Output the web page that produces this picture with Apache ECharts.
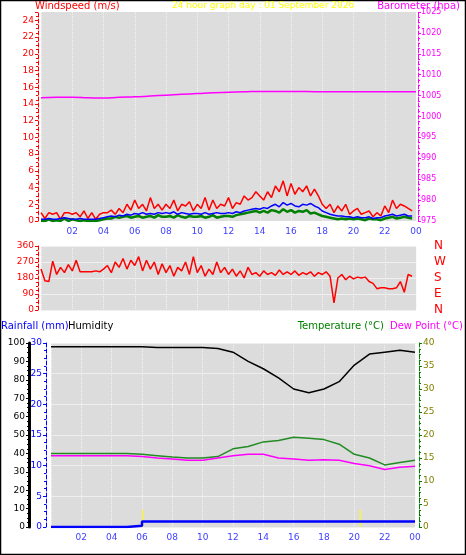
<!DOCTYPE html>
<html>
<head>
<meta charset="utf-8">
<script src="https://cdn.jsdelivr.net/npm/echarts@6/dist/echarts.min.js"></script>
<style>
  html, body { margin: 0; padding: 0; background: #fff; }
  #chart { width: 466px; height: 555px; }
</style>
</head>
<body>
<div id="chart"></div>
<script>
// 15 minute samples, hour 0 .. 23.75
const windGust = [
  1,0.3,1,0.8,1,0.2,1,1, 0.8,1,0.5,1.2,0.3,1,0.2,0.8,
  1,1,1.3,0.8,1.5,1,2,1.3,
  2.5,1.5,2,1.2,2.8,1.5,2,1.3,
  2,1.5,2.5,1.2,2,1.8,2.3,1.2,
  2,1.5,2.8,1.3,2.5,1.5,2,1.8,
  2.8,1.5,2.2,2,3,2.5,2.8,3.5,
  3,2.5,3.5,2.8,4.2,3.5,4.8,3,
  4.5,3.2,4,3.5,4.2,3,3.8,3,
  2,1.5,2,1,1.8,1.2,2,0.8,
  1.2,1.5,0.8,1,1.2,0.5,1,0.6,
  1.8,1,2.5,1.5,2,1.8,1.5,1.2
]
const windAvg = [
  0.2,0.2,0.3,0.2,0.2,0.3,0.4,0.3, 0.2,0.2,0.3,0.2,0.2,0.2,0.2,0.3,
  0.4,0.5,0.6,0.5,0.7,0.6,0.8,0.7,
  0.9,0.8,1,0.8,0.9,0.8,1,0.9,
  1,0.9,1.1,0.8,1,0.9,0.8,0.9,
  0.9,0.8,1,0.8,0.9,1,0.9,0.9,
  1,0.9,1.1,1,1.2,1.3,1.4,1.5,
  1.4,1.6,1.5,1.8,2,1.7,2.2,1.9,
  2.1,1.8,1.7,2,1.9,2.1,1.8,1.6,
  1.2,1,0.8,0.7,0.6,0.6,0.5,0.5,
  0.4,0.5,0.4,0.4,0.5,0.3,0.4,0.4,
  0.6,0.7,0.8,0.6,0.7,0.8,0.6,0.6
]
const windLull = [
  0,0,0.2,0,0.1,0,0.3,0, 0.2,0.1,0,0.1,0,0,0,0.1,
  0.2,0.3,0.3,0.5,0.4,0.5,0.6,0.4,
  0.5,0.6,0.4,0.5,0.6,0.4,0.7,0.5,
  0.5,0.6,0.4,0.7,0.5,0.4,0.6,0.5,
  0.5,0.6,0.4,0.5,0.7,0.4,0.5,0.6,
  0.6,0.5,0.7,0.8,0.9,1,1.1,1.2,
  1,1.2,1,1.3,1.2,1,1.4,1.1,
  1.3,1,1.2,1.1,1.3,0.9,1,0.8,
  0.6,0.5,0.4,0.3,0.2,0.3,0.2,0.3,
  0.2,0.3,0.2,0.1,0.3,0.2,0.2,0.1,
  0.3,0.4,0.5,0.3,0.4,0.5,0.4,0.3
]
const windDir = [
  230,165,160,275,200,240,210,255,
  220,280,215,215,215,215,220,215,
  230,250,210,270,240,290,230,280,
  250,300,220,280,230,270,200,260,
  210,250,190,240,220,270,200,300,
  210,250,190,230,200,270,210,240,
  200,230,190,220,180,240,200,210,
  190,220,200,210,195,225,200,215,
  200,220,195,210,200,215,190,210,
  200,215,190,40,180,200,170,190,
  175,185,180,185,160,150,120,125,
  125,120,120,125,160,100,200,190
]
// hourly samples, hour 0 .. 24
const barometer = [1004.5,1004.6,1004.6,1004.5,1004.4,1004.6,1004.7,1004.9,1005.1,1005.3,1005.5,1005.7,
  1005.8,1005.9,1006,1006,1006,1006,1005.9,1005.9,1005.9,1005.9,1005.9,1005.9,1005.9]
const humidity = [98,98,98,98,98,98,98,97.5,97.5,97.5,97.5,97,95,90,86,81,75,73,75,79,88,94,95,96,95]
const temperature = [16,16,16,16,16,16,15.8,15.5,15.2,15,15,15.3,17,17.5,18.5,18.8,19.5,19.3,19,18,15.8,15,13.5,14,14.5]
const dewPoint = [15.5,15.5,15.5,15.5,15.5,15.5,15.3,15,14.8,14.5,14.5,15,15.5,15.8,15.8,15,14.8,14.5,14.6,14.5,13.8,13.3,12.5,13,13.2]
const rainfall = [0,0,0,0,0,0.2,0.9,0.9,0.9,0.9,0.9,0.9,0.9,0.9,0.9,0.9,0.9,0.9,0.9,0.9,0.9,0.9,0.9,0.9,0.9]
const rainMarks = [6.05, 20.4]
const hourTicks = ['02','04','06','08','10','12','14','16','18','20','22','00']

const q = (arr) => arr.map((v, i) => [i / 4, v])
const h = (arr) => arr.map((v, i) => [i, v])
const font = 'DejaVu Sans'

function xAxis(gridIndex, showLabels) {
  return {
    type: 'value', gridIndex, min: 0, max: 24, interval: 2,
    axisLine: { show: false }, axisTick: { show: false },
    axisLabel: {
      show: showLabels, color: '#4040ff', fontSize: 9, fontFamily: font, margin: 6,
      formatter: v => v === 0 ? '' : hourTicks[v / 2 - 1]
    },
    splitLine: { show: true, lineStyle: { color: '#f4f4f4', type: 'dotted' } }
  }
}

function yAxis(gridIndex, pos, min, max, interval, color, offset, extra) {
  const ax = Object.assign({
    type: 'value', gridIndex, position: pos, min, max, interval, offset,
    axisLine: { show: true, lineStyle: { color, width: 1, type: 'dashed' } },
    axisTick: { show: true, length: 3, lineStyle: { color } },
    minorTick: { show: true, splitNumber: 4, length: 2, lineStyle: { color } },
    axisLabel: { color, fontSize: 9, fontFamily: font, margin: 4 },
    splitLine: { show: false }
  }, extra || {})
  ax.axisLine.onZero = false
  return ax
}

const dirNames = { 0: 'N', 90: 'E', 180: 'S', 270: 'W', 360: 'N' }
const chart = echarts.init(document.getElementById('chart'))
chart.setOption({
  animation: false,
  backgroundColor: '#fff',
  textStyle: { fontFamily: font },
  graphic: [
    { type: 'rect', shape: { x: 0.5, y: 0.5, width: 465, height: 554 }, style: { fill: 'none', stroke: '#000', lineWidth: 1.5 } },
    { type: 'text', left: 35, top: 1, style: { text: 'Windspeed (m/s)', fill: '#ff0000', font: '10px ' + font } },
    { type: 'text', left: 172, top: 1, style: { text: '24 hour graph day : 01 September 2026', fill: '#ffff00', font: '9px ' + font } },
    { type: 'text', right: 6, top: 1, style: { text: 'Barometer (hpa)', fill: '#ff00ff', font: '10px ' + font } },
    { type: 'text', left: 1, top: 321, style: { text: 'Rainfall (mm)', fill: '#0000ff', font: '10px ' + font } },
    { type: 'text', left: 68, top: 321, style: { text: 'Humidity', fill: '#000', font: '10px ' + font } },
    { type: 'text', right: 82, top: 321, style: { text: 'Temperature (°C)', fill: '#008000', font: '10px ' + font } },
    { type: 'text', right: 3, top: 321, style: { text: 'Dew Point (°C)', fill: '#ff00ff', font: '10px ' + font } }
  ],
  grid: [
    { left: 41, top: 12, width: 375, height: 209, show: true, backgroundColor: '#dddddd', borderWidth: 0 },
    { left: 41, top: 246, width: 375, height: 64, show: true, backgroundColor: '#dcdcdc', borderWidth: 0 },
    { left: 51, top: 343, width: 364, height: 184, show: true, backgroundColor: '#dcdcdc', borderWidth: 0 }
  ],
  xAxis: [xAxis(0, true), xAxis(1, false), xAxis(2, true)],
  yAxis: [
    yAxis(0, 'left', 0, 25, 2, '#ff0000', 3, { axisLabel: { color: '#ff0000', fontSize: 9, fontFamily: font, margin: 4, formatter: v => v > 24 ? '' : v } }),
    yAxis(0, 'right', 975, 1025, 5, '#ff00ff', 2, { axisLabel: { color: '#ff00ff', fontSize: 8, fontFamily: font, margin: 3, formatter: v => String(v) } }),
    yAxis(1, 'left', 0, 360, 90, '#ff0000', 3, { splitLine: { show: true, lineStyle: { color: '#f0f0f0' } } }),
    yAxis(1, 'right', 0, 360, 90, '#ff0000', 10, {
      axisLine: { show: false }, axisTick: { show: false }, minorTick: { show: false },
      axisLabel: { color: '#ff0000', fontSize: 12, fontFamily: font, formatter: v => dirNames[v] }
    }),
    yAxis(2, 'left', 0, 100, 10, '#000000', 22, { axisLine: { show: true, lineStyle: { color: '#000', width: 3 } } }),
    yAxis(2, 'left', 0, 30, 5, '#0000ff', 5, { splitLine: { show: true, lineStyle: { color: '#eeeeee' } } }),
    yAxis(2, 'right', 0, 40, 5, '#008000', 4, { axisLabel: { color: '#808000', fontSize: 9, fontFamily: font, margin: 4 } })
  ],
  series: [
    { type: 'line', xAxisIndex: 0, yAxisIndex: 1, data: h(barometer), symbol: 'none', smooth: true, lineStyle: { color: '#ff00ff', width: 1.5 } },
    { type: 'line', xAxisIndex: 0, yAxisIndex: 0, data: q(windGust), symbol: 'none', lineStyle: { color: '#ff0000', width: 1.5 } },
    { type: 'line', xAxisIndex: 0, yAxisIndex: 0, data: q(windLull), symbol: 'none', lineStyle: { color: '#008000', width: 2.5 } },
    { type: 'line', xAxisIndex: 0, yAxisIndex: 0, data: q(windAvg), symbol: 'none', lineStyle: { color: '#0000ff', width: 1.5 } },
    { type: 'line', xAxisIndex: 1, yAxisIndex: 2, data: q(windDir), symbol: 'none', lineStyle: { color: '#ff0000', width: 1.5 } },
    { type: 'line', xAxisIndex: 2, yAxisIndex: 4, data: h(humidity), symbol: 'none', lineStyle: { color: '#000', width: 1.5 } },
    { type: 'line', xAxisIndex: 2, yAxisIndex: 6, data: h(temperature), symbol: 'none', lineStyle: { color: '#228b22', width: 1.5 } },
    { type: 'line', xAxisIndex: 2, yAxisIndex: 6, data: h(dewPoint), symbol: 'none', lineStyle: { color: '#ff00ff', width: 1.5 } },
    { type: 'bar', xAxisIndex: 2, yAxisIndex: 5, data: rainMarks.map(t => [t, 2.8]), barWidth: 2, itemStyle: { color: '#f0f060' } },
    { type: 'line', xAxisIndex: 2, yAxisIndex: 5, data: h(rainfall), symbol: 'none', step: 'end', lineStyle: { color: '#0000ff', width: 2.5 } }
  ]
})
</script>
</body>
</html>
